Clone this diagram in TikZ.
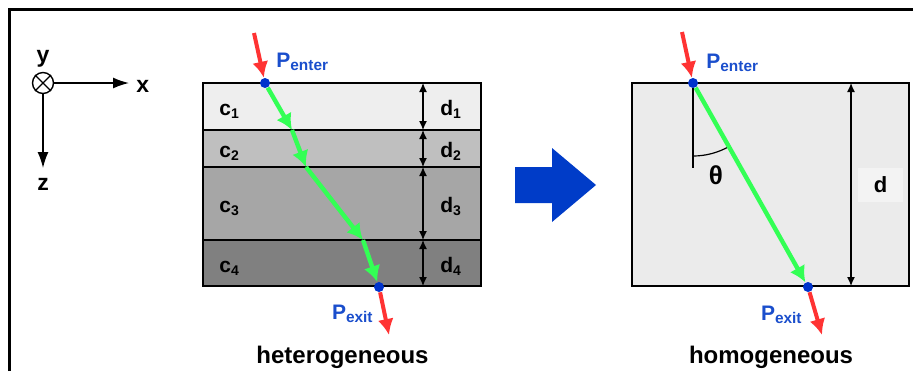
\documentclass[tikz,border=0pt]{standalone}
\usepackage{fontspec}
\setmainfont{Liberation Sans}
\usetikzlibrary{arrows.meta,calc}

\definecolor{layerA}{HTML}{EEEEEE}
\definecolor{layerB}{HTML}{BFBFBF}
\definecolor{layerC}{HTML}{A6A6A6}
\definecolor{layerD}{HTML}{808080}
\definecolor{slab}{HTML}{EBEBEB}
\definecolor{slabtag}{HTML}{F3F3F3}
\definecolor{rayred}{HTML}{FF3333}
\definecolor{raygreen}{HTML}{33FF55}
\definecolor{ptblue}{HTML}{0033CC}
\definecolor{txtblue}{HTML}{1A4ECC}
\definecolor{bigblue}{HTML}{003CC8}

\newcommand{\lsub}[2][7.7]{\raisebox{-1.7pt}{\fontsize{#1}{#1}\selectfont #2}}

\tikzset{
  lbl/.style={inner sep=0pt, font=\fontsize{10.5}{12}\selectfont\bfseries},
  axislbl/.style={inner sep=0pt, font=\fontsize{11.5}{13}\selectfont\bfseries},
  ptlbl/.style={lbl, text=txtblue},
  titlelbl/.style={inner sep=0pt, font=\fontsize{12}{14}\selectfont\bfseries},
  border/.style={draw=black, line width=1pt},
  dimarrow/.style={{Latex[length=4.5pt,width=4pt]}-{Latex[length=4.5pt,width=4pt]}, line width=0.6pt},
  axisarrow/.style={-{Latex[length=8pt,width=5.5pt]}, line width=0.75pt},
  inray/.style={-{Latex[length=8pt,width=8pt]}, line width=2pt, rayred},
  pathray/.style={-{Latex[length=8pt,width=8.5pt]}, line width=2.2pt, raygreen},
  ptdot/.style={circle, fill=ptblue, inner sep=0pt, minimum size=5pt},
}

\begin{document}
\begin{tikzpicture}[x=0.5pt, y=-0.5pt]
  \useasboundingbox (0,0) rectangle (913,371);
  % Frame
  \draw[line width=1.5pt] (9,371) -- (9,9) -- (913,9);

  % Coordinate axes
  \node[draw, circle, line width=0.7pt, inner sep=0pt, minimum size=10.5pt] (oy) at (43,83) {};
  \draw[line width=0.7pt] (oy.north west) -- (oy.south east) (oy.north east) -- (oy.south west);
  \coordinate (xtip) at (129,83);
  \coordinate (ztip) at (43,168);
  \draw[axisarrow] (oy) -- (xtip);
  \draw[axisarrow] (oy) -- (ztip);
  \node[axislbl, anchor=base west] (xl) at (136,92) {x};
  \node[axislbl, anchor=base] (yl) at (43,62) {y};
  \node[axislbl, anchor=base] (zl) at (43,190) {z};

  % Heterogeneous layers
  \foreach \i/\ytop/\ybot/\col in {1/83/130/layerA, 2/130/167/layerB, 3/167/240/layerC, 4/240/286/layerD}{
    \draw[border, fill=\col] (203,\ytop) rectangle (481,\ybot);
    \node[lbl, anchor=base west] (c\i) at (219,{(\ytop+\ybot)/2+9}) {c\lsub[7]{\i}};
    \node[lbl, anchor=base west] (d\i) at (440,{(\ytop+\ybot)/2+9}) {d\lsub[7]{\i}};
    \draw[dimarrow] (423,\ytop) -- (423,\ybot);
  }

  % Ray through the layers
  \node[ptdot] (enterL) at (265,83) {};
  \node[ptdot] (exitL) at (379,287) {};
  \coordinate (cross1) at (292,130);
  \coordinate (cross2) at (306,167);
  \coordinate (cross3) at (363,240);
  \coordinate (inL) at (254,33);
  \coordinate (outL) at (389,335);
  \draw[pathray] (enterL) -- (cross1);
  \draw[pathray] (cross1) -- (cross2);
  \draw[pathray] (cross2) -- (cross3);
  \draw[pathray] (cross3) -- (exitL);
  \draw[inray] (inL) -- (enterL);
  \draw[inray] (exitL) -- (outL);
  \node[ptlbl, anchor=base west] (enterLlbl) at (276,67) {P\lsub{enter}};
  \node[ptlbl, anchor=base east] (exitLlbl) at (373,319) {P\lsub{exit}};
  \node[titlelbl, anchor=base] (hetero) at (342.5,363) {heterogeneous};

  % Blue transition arrow
  \fill[bigblue] (515,167) -- (552,167) -- (552,148) -- (596,185) -- (552,222) -- (552,203) -- (515,203) -- cycle;

  % Homogeneous slab
  \draw[border, fill=slab] (632,83) rectangle (909,286);
  \node[ptdot] (enterR) at (693,83) {};
  \node[ptdot] (exitR) at (808,287) {};
  \coordinate (normal) at (693,168);
  \coordinate (inR) at (682,32);
  \coordinate (outR) at (822,335);
  \draw[line width=0.6pt] (enterR) -- (normal);
  \draw[line width=0.6pt] (693,156) arc (90:60.6:73);
  \draw[pathray] (enterR) -- (exitR);
  \draw[inray] (inR) -- (enterR);
  \draw[inray] (exitR) -- (outR);
  \node[axislbl, font=\fontsize{13}{15}\selectfont\bfseries] (theta) at (716,175) {θ};
  \draw[dimarrow] (851,83) -- (851,286);
  \node[lbl, font=\fontsize{11}{13}\selectfont\bfseries, fill=slabtag, minimum width=22.5pt, minimum height=17pt] (dR) at (880.5,185) {d};
  \node[ptlbl, anchor=base west] (enterRlbl) at (706,68) {P\lsub{enter}};
  \node[ptlbl, anchor=base east] (exitRlbl) at (802,320) {P\lsub{exit}};
  \node[titlelbl, anchor=base] (homo) at (771,363) {homogeneous};
\end{tikzpicture}
\end{document}
